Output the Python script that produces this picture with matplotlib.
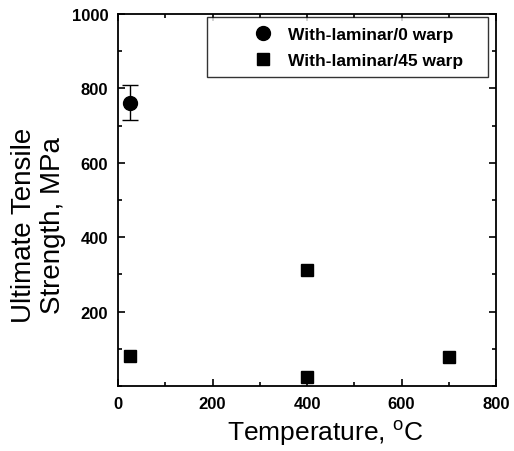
import numpy as np
import matplotlib
matplotlib.use('Agg')
import matplotlib.pyplot as plt
from matplotlib.ticker import MultipleLocator

plt.rcParams['font.family'] = ['Liberation Sans', 'DejaVu Sans']

# with-laminar / 0 warp
t0 = [25]
s0 = [762]
e0 = [48]

# with-laminar / 45 warp
t45 = [25, 400, 400, 700]
s45 = [80, 313, 24, 79]
e45 = [6, 8, 6, 6]

fig = plt.figure(figsize=(5.14, 4.52), dpi=100)
ax = fig.add_axes([0.2296, 0.1438, 0.7354, 0.823])

ax.errorbar(t0, s0, yerr=e0, fmt='o', color='black', ms=10, capsize=6,
            elinewidth=1, capthick=1)
ax.errorbar(t45, s45, yerr=e45, fmt='s', color='black', ms=8.5, capsize=3,
            elinewidth=1, capthick=1)
# legend handles without the error bars
h0, = ax.plot([], [], 'o', color='black', ms=10, label='With-laminar/0 warp')
h45, = ax.plot([], [], 's', color='black', ms=8.5, label='With-laminar/45 warp')

ax.set_xlim(0, 800)
ax.set_ylim(0, 1000)
ax.set_xticks([0, 200, 400, 600, 800])
ax.set_yticks([200, 400, 600, 800, 1000])
ax.xaxis.set_minor_locator(MultipleLocator(100))
ax.yaxis.set_minor_locator(MultipleLocator(100))
ax.tick_params(which='both', direction='in', top=True, right=True, width=1.2)
ax.tick_params(which='major', length=5, labelsize=12, pad=7)
ax.tick_params(which='minor', length=3)
for lab in ax.get_xticklabels() + ax.get_yticklabels():
    lab.set_fontweight('bold')
for sp in ax.spines.values():
    sp.set_linewidth(1.3)

ax.set_xlabel('Temperature, $^\\mathregular{o}$C', fontsize=19)
ax.xaxis.set_label_coords(0.548, -0.085)
ax.set_ylabel('Ultimate Tensile\nStrength, MPa', fontsize=20, linespacing=1.15)
ax.yaxis.set_label_coords(-0.138, 0.435)

leg = ax.legend(handles=[h0, h45], loc='upper left',
                bbox_to_anchor=(0.2354, 0, 0.7436, 0.992), mode='expand',
                frameon=True, fancybox=False, fontsize=12.5, borderaxespad=0,
                handlelength=5.4, handletextpad=-1.26, borderpad=0.55,
                labelspacing=0.62, numpoints=1)
leg.get_frame().set_edgecolor('black')
leg.get_frame().set_linewidth(1.0)
for t in leg.get_texts():
    t.set_fontweight('bold')

fig.savefig('out.png', dpi=100)
